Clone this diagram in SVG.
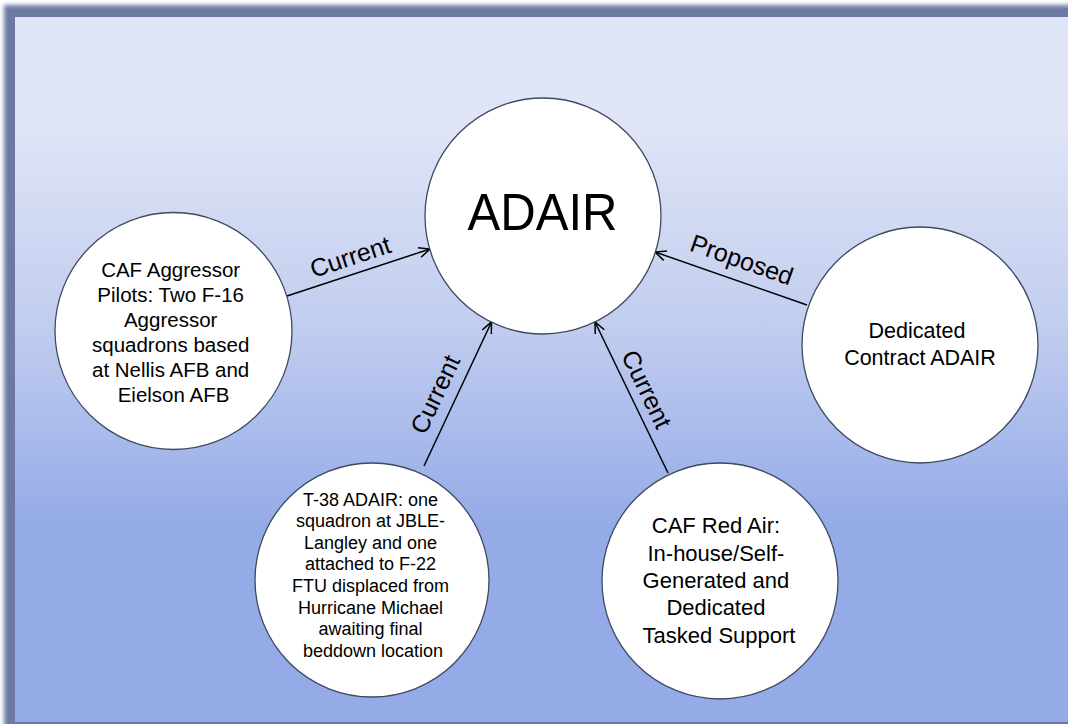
<svg xmlns="http://www.w3.org/2000/svg" width="1068" height="724" viewBox="0 0 1068 724">
<defs>
<linearGradient id="bg" gradientUnits="userSpaceOnUse" x1="0" y1="17" x2="0" y2="722">
<stop offset="0" stop-color="#e0e5f7"/>
<stop offset="0.16" stop-color="#dfe4f6"/>
<stop offset="0.44" stop-color="#c1cdef"/>
<stop offset="0.72" stop-color="#95abe8"/>
<stop offset="1" stop-color="#95abe8"/>
</linearGradient>
<filter id="soft" x="-5%" y="-5%" width="110%" height="110%"><feGaussianBlur stdDeviation="2"/></filter>
<marker id="arr" markerUnits="userSpaceOnUse" markerWidth="16" markerHeight="16" viewBox="-14 -8 16 16" refX="0" refY="0" orient="auto">
<path d="M-11,-5 L0,0 L-11,5" fill="none" stroke="#000" stroke-width="1.5" stroke-linejoin="miter"/>
</marker>
</defs>
<style>
.node{fill:#fff;stroke:#3d4a60;stroke-width:1.3}
.t{font-family:"Liberation Sans",Arial,sans-serif;fill:#000;text-anchor:middle}
.conn{stroke:#000;stroke-width:1.5;fill:none;marker-end:url(#arr)}
.lbl{font-family:"Liberation Sans",Arial,sans-serif;font-size:25px;fill:#000;text-anchor:middle}
</style>
<rect x="0" y="0" width="1068" height="724" fill="#fff"/>
<rect x="4" y="5" width="1090" height="740" fill="#6b7aa3" filter="url(#soft)"/>
<rect x="8" y="9" width="1080" height="730" fill="#6b7aa3"/>
<rect x="15" y="17" width="1070" height="705" fill="url(#bg)"/>

<g id="connectors">
<line class="conn" x1="287" y1="296" x2="430" y2="249"/>
<text class="lbl" transform="translate(353,265) rotate(-18.2)">Current</text>
<line class="conn" x1="807" y1="305" x2="655" y2="252"/>
<text class="lbl" transform="translate(739,268) rotate(19.3)">Proposed</text>
<line class="conn" x1="424" y1="466" x2="491.5" y2="322"/>
<text class="lbl" transform="translate(443,398) rotate(-64.7)">Current</text>
<line class="conn" x1="668" y1="473" x2="595" y2="322"/>
<text class="lbl" transform="translate(639,393) rotate(64.2)">Current</text>
</g>

<g id="adair">
<circle class="node" cx="543" cy="216" r="118"/>
<text class="t" x="542.5" y="230" font-size="52" textLength="150" lengthAdjust="spacingAndGlyphs">ADAIR</text>
</g>

<g id="caf-aggressor">
<circle class="node" cx="173.5" cy="331" r="118.5"/>
<text class="t" font-size="20.5">
<tspan x="173.5" y="277">CAF Aggressor</tspan>
<tspan x="173.5" y="302">Pilots: Two F-16</tspan>
<tspan x="173.5" y="327">Aggressor</tspan>
<tspan x="173.5" y="352">squadrons based</tspan>
<tspan x="173.5" y="377">at Nellis AFB and</tspan>
<tspan x="173.5" y="402">Eielson AFB</tspan>
</text>
</g>

<g id="contract-adair">
<circle class="node" cx="920" cy="345" r="118"/>
<text class="t" font-size="21.5">
<tspan x="920" y="338">Dedicated</tspan>
<tspan x="920" y="365">Contract ADAIR</tspan>
</text>
</g>

<g id="t38-adair">
<circle class="node" cx="372" cy="580" r="117"/>
<text class="t" font-size="18">
<tspan x="373" y="505.5">T-38 ADAIR: one</tspan>
<tspan x="373" y="527.1">squadron at JBLE-</tspan>
<tspan x="373" y="548.7">Langley and one</tspan>
<tspan x="373" y="570.3">attached to F-22</tspan>
<tspan x="373" y="591.9">FTU displaced from</tspan>
<tspan x="373" y="613.5">Hurricane Michael</tspan>
<tspan x="373" y="635.1">awaiting final</tspan>
<tspan x="373" y="656.7">beddown location</tspan>
</text>
</g>

<g id="caf-red-air">
<circle class="node" cx="720" cy="581" r="118"/>
<text class="t" font-size="22">
<tspan x="719" y="533.3">CAF Red Air:</tspan>
<tspan x="719" y="560.6">In-house/Self-</tspan>
<tspan x="719" y="587.9">Generated and</tspan>
<tspan x="719" y="615.2">Dedicated</tspan>
<tspan x="719" y="642.5">Tasked Support</tspan>
</text>
</g>
</svg>
